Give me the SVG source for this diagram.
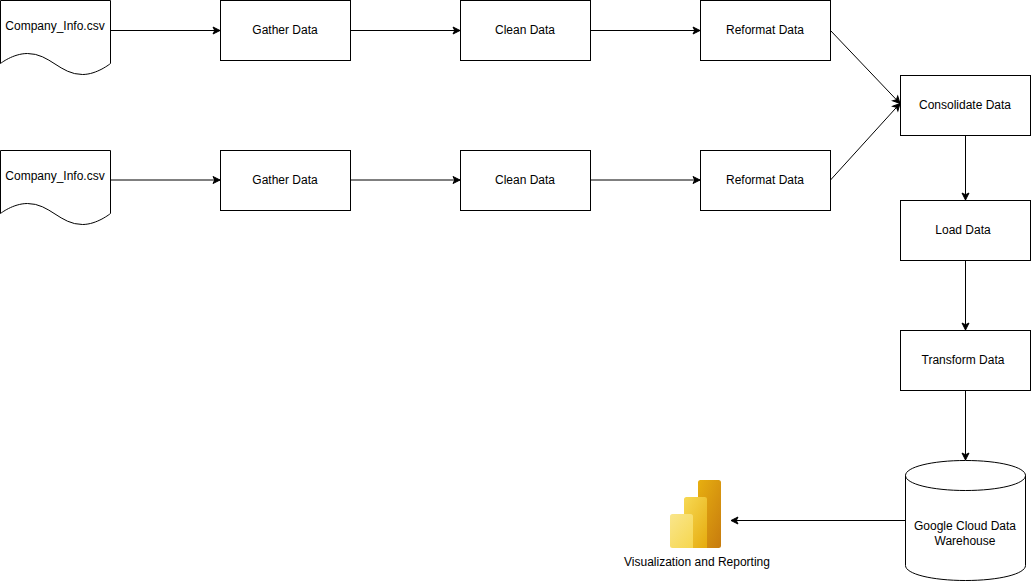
<svg xmlns="http://www.w3.org/2000/svg" width="1031" height="581" viewBox="0 0 1031 581">
<style>
.s{fill:#fff;stroke:#000;stroke-width:1}
.o{fill:none;stroke:#000;stroke-width:1}
.c{fill:none;stroke:#000;stroke-width:1;marker-end:url(#a)}
text{font-family:"Liberation Sans",Arial,sans-serif;font-size:12px;fill:#000;text-anchor:middle}
</style>
<defs>
<marker id="a" markerUnits="userSpaceOnUse" markerWidth="10" markerHeight="10" refX="8" refY="4.500" orient="auto" overflow="visible"><path d="M1 1L8 4.500L1 8L2.750 4.500Z" fill="#000" stroke="#000"/></marker>
<linearGradient id="g1" x1="0.100" y1="0" x2="0.900" y2="1"><stop offset="0" stop-color="#e6ad10"/><stop offset="1" stop-color="#c87d0e"/></linearGradient>
<linearGradient id="g2" x1="0.100" y1="0" x2="0.900" y2="1"><stop offset="0" stop-color="#f6d751"/><stop offset="1" stop-color="#e6ad10"/></linearGradient>
<linearGradient id="g3" x1="0.100" y1="0" x2="0.900" y2="1"><stop offset="0" stop-color="#f9e589"/><stop offset="1" stop-color="#f6d751"/></linearGradient>
</defs>
<g id="connectors">
<path class="c" d="M110.500 30.500H220"/>
<path class="c" d="M350.500 30.500H460"/>
<path class="c" d="M590.500 30.500H700"/>
<path class="c" d="M830.500 30.500L900 103.500"/>
<path class="c" d="M110.500 180H220"/>
<path class="c" d="M350.500 180H460"/>
<path class="c" d="M590.500 180H700"/>
<path class="c" d="M830.500 180L900 103.500"/>
<path class="c" d="M965.500 135.500V200"/>
<path class="c" d="M965.500 260.500V330"/>
<path class="c" d="M965.500 390.500V460"/>
<path class="c" d="M905.500 520.500H731"/>
</g>
<g id="doc1"><path class="s" d="M0.500 0.500H110.500V63.500C110.500 63.500 97 74.500 82.500 74.500C60 74.500 50 53.500 27.500 53.500C13 53.500 0.500 63.500 0.500 63.500Z"/><text x="55" y="30">Company_Info.csv</text></g>
<g id="gather1"><rect class="s" x="220.500" y="0.500" width="130" height="60"/><text x="285" y="34">Gather Data</text></g>
<g id="clean1"><rect class="s" x="460.500" y="0.500" width="130" height="60"/><text x="525" y="34">Clean Data</text></g>
<g id="reformat1"><rect class="s" x="700.500" y="0.500" width="130" height="60"/><text x="765" y="34">Reformat Data</text></g>
<g id="doc2"><path class="s" d="M0.500 150.500H110.500V213.500C110.500 213.500 97 224.500 82.500 224.500C60 224.500 50 203.500 27.500 203.500C13 203.500 0.500 213.500 0.500 213.500Z"/><text x="55" y="180">Company_Info.csv</text></g>
<g id="gather2"><rect class="s" x="220.500" y="150.500" width="130" height="60"/><text x="285" y="184">Gather Data</text></g>
<g id="clean2"><rect class="s" x="460.500" y="150.500" width="130" height="60"/><text x="525" y="184">Clean Data</text></g>
<g id="reformat2"><rect class="s" x="700.500" y="150.500" width="130" height="60"/><text x="765" y="184">Reformat Data</text></g>
<g id="consolidate"><rect class="s" x="900.500" y="75.500" width="130" height="60"/><text x="965" y="109">Consolidate Data</text></g>
<g id="load"><rect class="s" x="900.500" y="200.500" width="130" height="60"/><text x="963" y="234">Load Data</text></g>
<g id="transform"><rect class="s" x="900.500" y="330.500" width="130" height="60"/><text x="963" y="364">Transform Data</text></g>
<g id="warehouse"><path class="s" d="M905.500 475.500C905.500 467 932 460.500 965.500 460.500C999 460.500 1025.500 467 1025.500 475.500V565.500C1025.500 574 999 580.500 965.500 580.500C932 580.500 905.500 574 905.500 565.500Z"/><path class="o" d="M905.500 475.500C905.500 484 932 490.500 965.500 490.500C999 490.500 1025.500 484 1025.500 475.500"/><text x="965" y="530">Google Cloud Data</text><text x="965" y="545">Warehouse</text></g>
<g id="powerbi"><rect x="698" y="480" width="23" height="68" rx="2.500" fill="url(#g1)"/><path d="M684 499.500a2.500 2.500 0 0 1 2.500-2.500H704.500a2.500 2.500 0 0 1 2.500 2.500V548H684Z" fill="url(#g2)"/><path d="M670 516.500a2.500 2.500 0 0 1 2.500-2.500H690.500a2.500 2.500 0 0 1 2.500 2.500V548H672.500a2.500 2.500 0 0 1-2.500-2.500Z" fill="url(#g3)"/><text x="697" y="566">Visualization and Reporting</text></g>
</svg>
